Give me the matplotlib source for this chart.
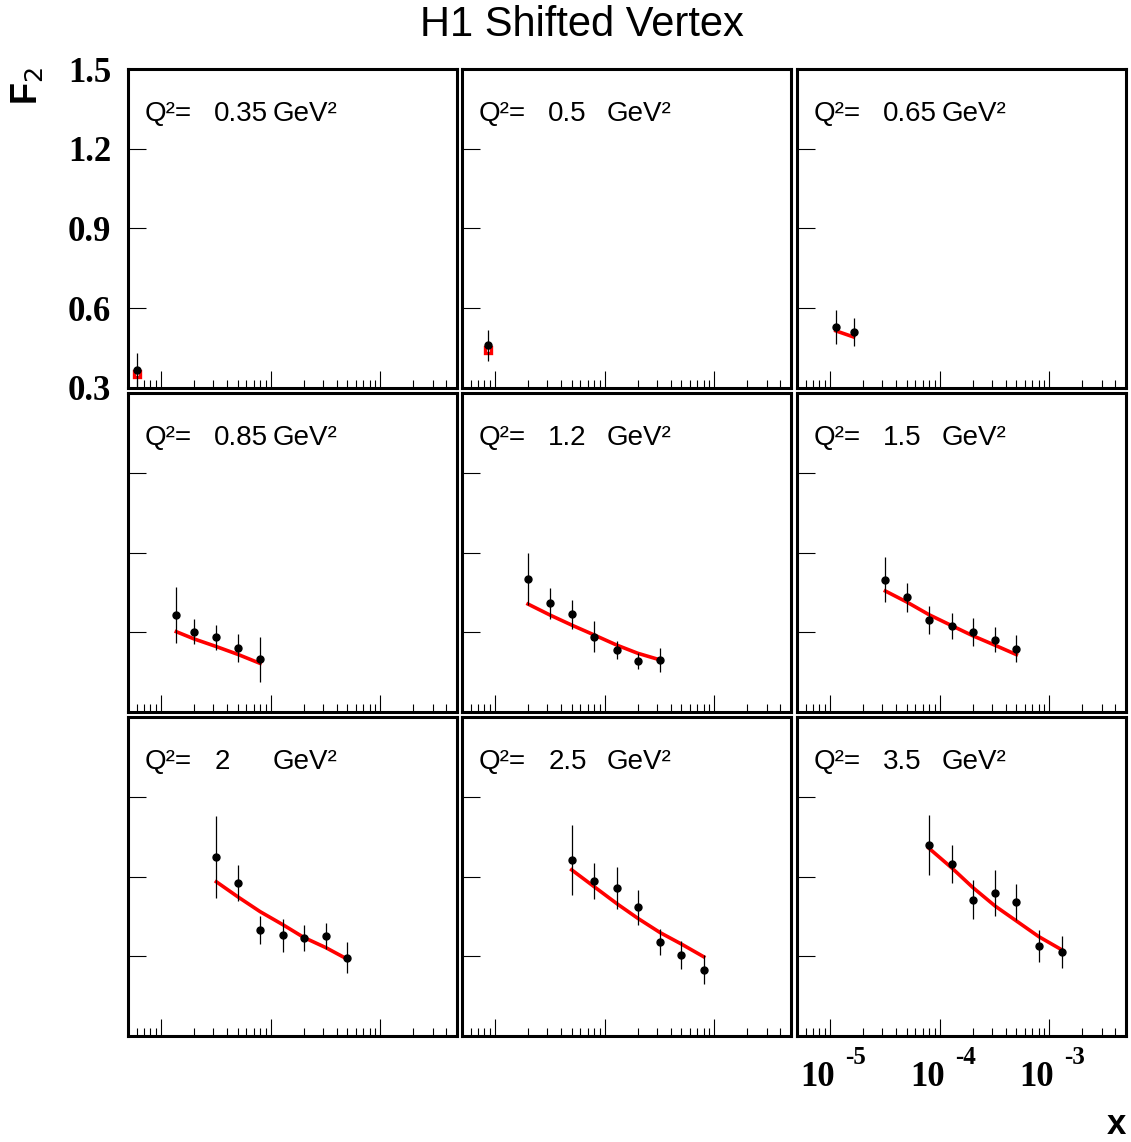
#!/usr/bin/env python
"""
F2 vs x in bins of Q^2, H1 shifted vertex data with fit curves.
"""

import sys

import numpy as np
import matplotlib
matplotlib.use("Agg")
import matplotlib.pyplot as plt
import matplotlib.transforms as mtransforms
from matplotlib.ticker import LogLocator, FixedLocator, NullFormatter

# Q^2 bins (GeV^2), one panel each
q2_labels = ["0.35", "0.5", "0.65", "0.85", "1.2", "1.5", "2", "2.5", "3.5"]

# x values of the measured points in each panel
x_points = [
    [6.1e-6],
    [8.7e-6],
    [1.13e-5, 1.64e-5],
    [1.38e-5, 2.0e-5, 3.2e-5, 5.0e-5, 8.0e-5],
    [2.0e-5, 3.2e-5, 5.0e-5, 8.0e-5, 1.3e-4, 2.0e-4, 3.2e-4],
    [3.2e-5, 5.0e-5, 8.0e-5, 1.3e-4, 2.0e-4, 3.2e-4, 5.0e-4],
    [3.2e-5, 5.0e-5, 8.0e-5, 1.3e-4, 2.0e-4, 3.2e-4, 5.0e-4],
    [5.0e-5, 8.0e-5, 1.3e-4, 2.0e-4, 3.2e-4, 5.0e-4, 8.0e-4],
    [8.0e-5, 1.3e-4, 2.0e-4, 3.2e-4, 5.0e-4, 8.0e-4, 1.3e-3],
]

# measured F2
f2_data = [
    [0.368],
    [0.461],
    [0.530, 0.510],
    [0.665, 0.602, 0.581, 0.541, 0.498],
    [0.799, 0.709, 0.668, 0.583, 0.532, 0.491, 0.496],
    [0.797, 0.732, 0.645, 0.624, 0.602, 0.572, 0.538],
    [0.975, 0.875, 0.699, 0.679, 0.670, 0.676, 0.595],
    [0.962, 0.884, 0.858, 0.784, 0.654, 0.604, 0.549],
    [1.019, 0.947, 0.813, 0.837, 0.804, 0.639, 0.617],
]

# total errors on F2
f2_err = [
    [0.064],
    [0.058],
    [0.064, 0.053],
    [0.104, 0.048, 0.048, 0.052, 0.084],
    [0.098, 0.059, 0.054, 0.058, 0.034, 0.030, 0.046],
    [0.085, 0.054, 0.052, 0.050, 0.053, 0.048, 0.050],
    [0.154, 0.069, 0.053, 0.062, 0.049, 0.050, 0.058],
    [0.132, 0.068, 0.079, 0.066, 0.049, 0.052, 0.054],
    [0.113, 0.071, 0.073, 0.087, 0.069, 0.061, 0.060],
]

# fit curve evaluated at the measured x
f2_fit = [
    [0.353],
    [0.442],
    [0.515, 0.492],
    [0.602, 0.575, 0.546, 0.517, 0.483],
    [0.706, 0.664, 0.627, 0.590, 0.551, 0.521, 0.496],
    [0.755, 0.714, 0.666, 0.624, 0.587, 0.551, 0.516],
    [0.880, 0.824, 0.768, 0.718, 0.671, 0.632, 0.589],
    [0.925, 0.862, 0.797, 0.743, 0.689, 0.646, 0.598],
    [1.006, 0.931, 0.859, 0.789, 0.733, 0.674, 0.624],
]

y_ticks = [0.3, 0.6, 0.9, 1.2, 1.5]
x_major = [1e-5, 1e-4, 1e-3]


def main(argv=None):
    if argv is None:
        argv = sys.argv
    plot_panels("out.png")


def label_decades(ax, fig):
    # ROOT style "10" with the exponent raised well above it
    blend = mtransforms.blended_transform_factory(ax.transData, ax.transAxes)
    for v in x_major:
        e = int(round(np.log10(v)))
        base_tr = mtransforms.offset_copy(blend, fig=fig, x=5, y=-25, units='dots')
        exp_tr = mtransforms.offset_copy(blend, fig=fig, x=15, y=-10, units='dots')
        ax.text(v, 0, "10", transform=base_tr, ha='right', va='top', fontsize=25,
                family='Liberation Serif', fontweight='bold', clip_on=False)
        ax.text(v, 0, "%d" % e, transform=exp_tr, ha='left', va='top', fontsize=18,
                family='Liberation Serif', fontweight='bold', clip_on=False)


def plot_panels(plot_file):
    W, H = 1131., 1142.
    fig = plt.figure(figsize=(W / 100, H / 100), dpi=100)

    lefts = [128, 462, 797]
    tops = [69, 393, 717]
    pw, ph = 329, 319

    for i in range(9):
        row, col = i // 3, i % 3
        ax = fig.add_axes([lefts[col] / W, 1 - (tops[row] + ph) / H, pw / W, ph / H])
        ax.set_xscale('log')
        ax.set_xlim(5e-6, 5e-3)
        ax.set_ylim(0.3, 1.5)

        for sp in ax.spines.values():
            sp.set_linewidth(2.2)

        ax.xaxis.set_major_locator(FixedLocator(x_major))
        ax.xaxis.set_minor_locator(LogLocator(base=10, subs=np.arange(2, 10), numticks=20))
        ax.xaxis.set_minor_formatter(NullFormatter())
        ax.set_yticks(y_ticks)
        ax.tick_params(axis='x', which='major', direction='in', length=12, width=0.8,
                       top=False, bottom=True)
        ax.tick_params(axis='x', which='minor', direction='in', length=6, width=0.8,
                       top=False, bottom=True)
        ax.tick_params(axis='y', which='major', direction='in', length=13, width=0.8,
                       left=True, right=False, pad=12)
        ax.set_xticklabels([])

        if i == 0:
            ax.set_yticklabels(["%.1f" % v for v in y_ticks], family='Liberation Serif',
                               fontweight='bold', fontsize=25)
        else:
            ax.set_yticklabels([])
        if i == 8:
            label_decades(ax, fig)

        xs = x_points[i]
        ax.errorbar(xs, f2_data[i], yerr=f2_err[i], fmt='o', color='black', ms=5,
                    elinewidth=0.9, capsize=0, zorder=3)
        if len(xs) > 1:
            ax.plot(xs, f2_fit[i], color='red', linewidth=2.6, zorder=2)
        else:
            # single point: fit value shown as a small square
            ax.plot(xs, f2_fit[i], marker='s', ms=5, mfc='white', mec='red', mew=2.4,
                    linestyle='none', zorder=2.5)

        ax.text(0.052, 0.86, "Q\u00b2=", transform=ax.transAxes, fontsize=20,
                family='Liberation Sans', va='center', ha='left')
        ax.text(0.262, 0.86, q2_labels[i], transform=ax.transAxes, fontsize=20,
                family='Liberation Sans', va='center', ha='left')
        ax.text(0.44, 0.86, "GeV\u00b2", transform=ax.transAxes, fontsize=20,
                family='Liberation Sans', va='center', ha='left')

    fig.text(582 / W, 1 - 25 / H, "H1 Shifted Vertex", ha='center', va='center',
             fontsize=30, family='Liberation Sans')
    fig.text(27 / W, 1 - 86 / H, r"F$_2$", rotation=90, ha='center', va='center',
             fontsize=26, family='Liberation Sans', fontweight='bold')
    fig.text(1116 / W, 1 - 1124 / H, "x", ha='center', va='center',
             fontsize=25, family='Liberation Sans', fontweight='bold')

    plt.savefig(plot_file, dpi=100)
    plt.close(fig)


if __name__ == "__main__":
    sys.exit(main())
